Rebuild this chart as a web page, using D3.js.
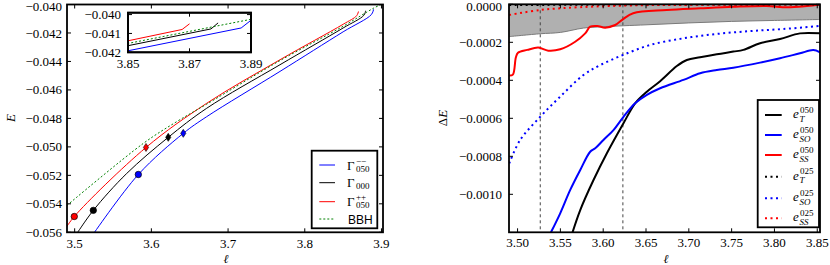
<!DOCTYPE html>
<html>
<head>
<meta charset="utf-8">
<script src="https://cdn.jsdelivr.net/npm/d3@7"></script>
<style>
  body { margin: 0; background: #fff; }
</style>
</head>
<body>
<svg id="chart"></svg>
<script>
// --- data ---

// left panel: binding energy curves E(l)
const gammaMinus = [[3.522, -0.0563], [3.583, -0.05194], [3.6416, -0.04905], [3.6721, -0.04788],
  [3.7677, -0.0447], [3.85, -0.04192], [3.8868, -0.04071], [3.8897, -0.04034]];
const gammaZero = [[3.5015, -0.0562], [3.5243, -0.05446], [3.5678, -0.05187], [3.622, -0.04933],
  [3.6721, -0.04729], [3.7677, -0.04423], [3.85, -0.04165], [3.877, -0.04076], [3.8793, -0.04044]];
const gammaPlus = [[3.488, -0.05575], [3.4995, -0.05489], [3.593, -0.05004],
  [3.6721, -0.04694], [3.7677, -0.04388], [3.85, -0.04139], [3.8676, -0.04079], [3.870, -0.04049]];
const bbh = [[3.49, -0.05411], [3.5894, -0.04976], [3.633, -0.04823], [3.6721, -0.047],
  [3.7677, -0.04394], [3.85, -0.04153], [3.89, -0.04025], [3.902, -0.03994]];

// markers: circles and diamonds with error bars
const circleMarks = [
  { x: 3.4995, y: -0.05489, c: "#ff0000" },
  { x: 3.5243, y: -0.05446, c: "#000000" },
  { x: 3.583, y: -0.05194, c: "#0000ff" }
];
const diamondMarks = [
  { x: 3.593, y: -0.05004, err: 0.00016, c: "#ff0000" },
  { x: 3.622, y: -0.04933, err: 0.00016, c: "#000000" },
  { x: 3.6416, y: -0.04905, err: 0.00016, c: "#0000ff" }
];

const leftXTicks = [3.5, 3.6, 3.7, 3.8, 3.9];
const leftYTicks = [-0.056, -0.054, -0.052, -0.050, -0.048, -0.046, -0.044, -0.042, -0.040];
const insetXTicks = [3.85, 3.87, 3.89];
const insetYTicks = [-0.042, -0.041, -0.040];

// right panel: error contributions dE(l)
const eT050 = [[3.5635, -0.00121], [3.5732, -0.001083], [3.5887, -0.000925], [3.6043, -0.000784],
  [3.6237, -0.000626], [3.6373, -0.000521], [3.651, -0.00046], [3.6665, -0.000405], [3.686, -0.000325],
  [3.6977, -0.000293], [3.7132, -0.000279], [3.7327, -0.000263], [3.752, -0.000249], [3.7637, -0.00024],
  [3.7832, -0.000205], [3.8065, -0.000183], [3.8298, -0.000153], [3.8532, -0.000153]];
const eSO050 = [[3.539, -0.0012], [3.5498, -0.0011], [3.5615, -0.000977], [3.5732, -0.000872],
  [3.5848, -0.000776], [3.5907, -0.000758], [3.6003, -0.000714], [3.612, -0.000662], [3.6237, -0.000592],
  [3.6373, -0.000521], [3.651, -0.000477], [3.6665, -0.000442], [3.6937, -0.000398], [3.7132, -0.000363],
  [3.7327, -0.000346], [3.752, -0.000334], [3.7832, -0.000307], [3.8065, -0.000284], [3.8298, -0.000258],
  [3.8454, -0.000241], [3.8532, -0.000253]];
const eSS050 = [[3.4903, -0.000375], [3.4945, -0.00037], [3.498, -0.00028], [3.5005, -0.000255],
  [3.5113, -0.00024], [3.5242, -0.000228], [3.5358, -0.000244], [3.5498, -0.000237], [3.5673, -0.000197],
  [3.579, -0.000153], [3.5848, -0.000118], [3.593, -0.000114], [3.6023, -0.000123], [3.614, -0.000109],
  [3.623, -0.000079], [3.635, -0.000047], [3.6743, -0.00003], [3.7132, -0.000021], [3.7517, -0.000013],
  [3.791, -0.000009], [3.8147, -0.000016], [3.838, -0.000009], [3.8532, -0.000001]];
const eT025 = [[3.4903, -0.000004], [3.6, -0.000002], [3.8532, -0.000001]];
const eSO025 = [[3.4903, -0.000837], [3.5032, -0.000713], [3.5265, -0.000592], [3.5498, -0.000486],
  [3.577, -0.000372], [3.5965, -0.00032], [3.623, -0.000267], [3.6549, -0.000214], [3.6937, -0.000179],
  [3.7327, -0.000156], [3.7716, -0.000141], [3.8104, -0.00013], [3.8532, -0.000114]];
const eSS025 = [[3.4903, -0.000056], [3.5265, -0.00003], [3.573, -0.000015], [3.643, -0.000005],
  [3.7, -0.000003], [3.8532, -0.000001]];
// grey band lower edge (band runs up to 0)
const band = [[3.4903, -0.00017], [3.5265, -0.000155], [3.55, -0.000148], [3.577, -0.000125],
  [3.6, -0.000118], [3.65, -0.000108], [3.7, -0.000098], [3.75, -0.00009], [3.8, -0.000085], [3.8532, -0.00008]];
const dashedX = [3.5265, 3.623];

const rightXTicks = [3.50, 3.55, 3.60, 3.65, 3.70, 3.75, 3.80, 3.85];
const rightYTicks = [-0.0010, -0.0008, -0.0006, -0.0004, -0.0002, 0.0000];

// --- setup ---
const width = 830, height = 265;
const serif = '"Liberation Serif", "Times New Roman", "DejaVu Serif", serif';
const svg = d3.select("#chart").attr("width", width).attr("height", height)
  .attr("font-family", serif);
const fs = 13;

const xL = d3.scaleLinear().domain([3.49, 3.902]).range([67, 383]);
const yL = d3.scaleLinear().domain([-0.056, -0.040]).range([232.3, 4.5]);
const xI = d3.scaleLinear().domain([3.85, 3.89]).range([128, 251]);
const yI = d3.scaleLinear().domain([-0.042, -0.0399]).range([52.3, 12.7]);
const xR = d3.scaleLinear().domain([3.49, 3.8532]).range([509, 820]);
const yR = d3.scaleLinear().domain([-0.0012, 0]).range([232.3, 4.3]);

const minus = s => s.replace("-", "\u2212");

function clip(id, x, y) {
  svg.append("clipPath").attr("id", id).append("rect")
    .attr("x", x.range()[0]).attr("y", y.range()[1])
    .attr("width", x.range()[1] - x.range()[0])
    .attr("height", y.range()[0] - y.range()[1]);
}

// frame with inward ticks on all four sides, labels left/bottom
function frame(x, y, xt, yt, xfmt, yfmt, tl, opts) {
  const g = svg.append("g");
  const [x0, x1] = x.range(), [y1, y0] = y.range();
  g.append("rect").attr("x", x0).attr("y", y0).attr("width", x1 - x0).attr("height", y1 - y0)
    .attr("fill", opts.fill || "none").attr("stroke", "#000").attr("stroke-width", 1.8);
  xt.forEach(v => {
    g.append("line").attr("x1", x(v)).attr("x2", x(v)).attr("y1", y1).attr("y2", y1 - tl).attr("stroke", "#000");
    g.append("line").attr("x1", x(v)).attr("x2", x(v)).attr("y1", y0).attr("y2", y0 + tl).attr("stroke", "#000");
    g.append("text").attr("x", x(v)).attr("y", y1 + opts.xdy).attr("text-anchor", "middle")
      .style("font-size", fs + "px").text(xfmt(v));
  });
  yt.forEach(v => {
    g.append("line").attr("x1", x0).attr("x2", x0 + tl).attr("y1", y(v)).attr("y2", y(v)).attr("stroke", "#000");
    g.append("line").attr("x1", x1).attr("x2", x1 - tl).attr("y1", y(v)).attr("y2", y(v)).attr("stroke", "#000");
    g.append("text").attr("x", x0 - opts.ydx).attr("y", Math.max(y(v), 6)).attr("dy", "0.35em").attr("text-anchor", "end")
      .style("font-size", fs + "px").text(minus(yfmt(v)));
  });
}

// --- left panel ---
clip("clipL", xL, yL);
clip("clipI", xI, yI);

const lineL = d3.line().x(d => xL(d[0])).y(d => yL(d[1])).curve(d3.curveCatmullRom.alpha(0.5));
const lineI = d3.line().x(d => xI(d[0])).y(d => yI(d[1]));

const leftSeries = [
  { data: gammaMinus, c: "#0000ff", dash: null },
  { data: gammaZero, c: "#000000", dash: null },
  { data: gammaPlus, c: "#ff0000", dash: null },
  { data: bbh, c: "#008000", dash: "2,2" }
];

const gL = svg.append("g").attr("clip-path", "url(#clipL)");
leftSeries.forEach(s => {
  gL.append("path").attr("d", lineL(s.data)).attr("fill", "none")
    .attr("stroke", s.c).attr("stroke-width", 1).attr("stroke-dasharray", s.dash);
});

diamondMarks.forEach(m => {
  gL.append("line").attr("x1", xL(m.x)).attr("x2", xL(m.x))
    .attr("y1", yL(m.y - m.err)).attr("y2", yL(m.y + m.err)).attr("stroke", "#000").attr("stroke-width", 1);
  const cx = xL(m.x), cy = yL(m.y);
  gL.append("path").attr("d", `M${cx},${cy - 4}L${cx + 2.6},${cy}L${cx},${cy + 4}L${cx - 2.6},${cy}Z`)
    .attr("fill", m.c).attr("stroke", "#000").attr("stroke-width", 0.6);
});
gL.selectAll(".cmark").data(circleMarks).enter().append("circle")
  .attr("cx", d => xL(d.x)).attr("cy", d => yL(d.y)).attr("r", 3.2)
  .attr("fill", d => d.c).attr("stroke", "#000").attr("stroke-width", 0.7);

frame(xL, yL, leftXTicks, leftYTicks, d3.format(".1f"), d3.format(".3f"), 4, { xdy: 16, ydx: 5 });

// inset
frame(xI, yI, insetXTicks, insetYTicks, d3.format(".2f"), d3.format(".3f"), 4, { xdy: 16, ydx: 7, fill: "#fff" });
const gI = svg.append("g").attr("clip-path", "url(#clipI)");
leftSeries.forEach(s => {
  gI.append("path").attr("d", lineI(s.data)).attr("fill", "none")
    .attr("stroke", s.c).attr("stroke-width", 1).attr("stroke-dasharray", s.dash);
});
svg.append("rect").attr("x", 128).attr("y", 12.7).attr("width", 123).attr("height", 39.6)
  .attr("fill", "none").attr("stroke", "#000").attr("stroke-width", 1.8);

// axis labels
svg.append("text").attr("transform", "translate(15,118) rotate(-90)").attr("text-anchor", "middle")
  .style("font-size", fs + "px").style("font-style", "italic").text("E");
svg.append("text").attr("x", 226).attr("y", 263).attr("text-anchor", "middle")
  .style("font-size", "12px").style("font-style", "italic").style("font-family", "DejaVu Serif").text("ℓ");

// left legend
const legL = svg.append("g");
legL.append("rect").attr("x", 311.7).attr("y", 150.7).attr("width", 65.6).attr("height", 77.6)
  .attr("fill", "#fff").attr("stroke", "#000").attr("stroke-width", 1.8);
const legLItems = [
  { c: "#0000ff", dash: null, sup: "\u2212\u2212", sub: "050", y: 165 },
  { c: "#000000", dash: null, sup: "", sub: "000", y: 182.7 },
  { c: "#ff0000", dash: null, sup: "++", sub: "050", y: 201.7 },
  { c: "#008000", dash: "2,2", text: "BBH", y: 219 }
];
legLItems.forEach(d => {
  legL.append("line").attr("x1", 319.3).attr("x2", 335).attr("y1", d.y).attr("y2", d.y)
    .attr("stroke", d.c).attr("stroke-width", 1).attr("stroke-dasharray", d.dash);
  if (d.text) {
    legL.append("text").attr("x", 348).attr("y", d.y + 4.5).attr("font-family", "Liberation Sans")
      .style("font-size", "12px").text(d.text);
  } else {
    const t = legL.append("text").attr("x", 347).attr("y", d.y + 4.5).style("font-size", fs + "px");
    t.append("tspan").text("\u0393");
    if (d.sup) t.append("tspan").attr("x", 356).attr("dy", -6).style("font-size", "9px").text(d.sup);
    t.append("tspan").attr("x", 356).attr("dy", d.sup ? 8 : 2).style("font-size", "9px").text(d.sub);
  }
});

// --- right panel ---
clip("clipR", xR, yR);
const lineR = d3.line().x(d => xR(d[0])).y(d => yR(d[1])).curve(d3.curveCatmullRom.alpha(0.5));
const gR = svg.append("g").attr("clip-path", "url(#clipR)");

const area = d3.area().x(d => xR(d[0])).y0(yR(0.00002)).y1(d => yR(d[1])).curve(d3.curveCatmullRom.alpha(0.5));
gR.append("path").attr("d", area(band)).attr("fill", "#b0b0b0");
gR.append("path").attr("d", lineR(band)).attr("fill", "none").attr("stroke", "#7a7a7a").attr("stroke-width", 1);

dashedX.forEach(v => {
  gR.append("line").attr("x1", xR(v)).attr("x2", xR(v)).attr("y1", yR(0)).attr("y2", yR(-0.0012))
    .attr("stroke", "#444").attr("stroke-width", 1).attr("stroke-dasharray", "3,3");
});

const rightSeries = [
  { data: eT050, c: "#000000", dash: null, sub: "T" },
  { data: eSO050, c: "#0000ff", dash: null, sub: "SO" },
  { data: eSS050, c: "#ff0000", dash: null, sub: "SS" },
  { data: eT025, c: "#000000", dash: "2,3.5", sub: "T" },
  { data: eSO025, c: "#0000ff", dash: "2,3.5", sub: "SO" },
  { data: eSS025, c: "#ff0000", dash: "2,3.5", sub: "SS" }
];
const supR = ["050", "050", "050", "025", "025", "025"];

rightSeries.forEach(s => {
  gR.append("path").attr("d", lineR(s.data)).attr("fill", "none")
    .attr("stroke", s.c).attr("stroke-width", 2).attr("stroke-dasharray", s.dash);
});

frame(xR, yR, rightXTicks, rightYTicks, d3.format(".2f"), d3.format(".4f"), 4, { xdy: 15, ydx: 7 });

svg.append("text").attr("transform", "translate(447,118) rotate(-90)").attr("text-anchor", "middle")
  .style("font-size", fs + "px").html('\u0394<tspan font-style="italic">E</tspan>');
svg.append("text").attr("x", 666).attr("y", 263).attr("text-anchor", "middle")
  .style("font-size", "12px").style("font-style", "italic").style("font-family", "DejaVu Serif").text("ℓ");

// right legend
const legR = svg.append("g");
legR.append("rect").attr("x", 757.7).attr("y", 100).attr("width", 61.3).attr("height", 127.3)
  .attr("fill", "#fff").attr("stroke", "#000").attr("stroke-width", 1.8);
const legRY = [115, 135, 155, 176.7, 198.3, 218.3];
rightSeries.forEach((s, i) => {
  const y = legRY[i];
  legR.append("line").attr("x1", 765).attr("x2", 781.7).attr("y1", y).attr("y2", y)
    .attr("stroke", s.c).attr("stroke-width", 2).attr("stroke-dasharray", s.dash);
  const t = legR.append("text").attr("x", 793).attr("y", y + 3).style("font-size", fs + "px");
  t.append("tspan").style("font-style", "italic").text("e");
  t.append("tspan").attr("x", 800).attr("dy", -5.5).style("font-size", "9px").text(supR[i]);
  t.append("tspan").attr("x", 799.5).attr("dy", 9).style("font-size", "9px").style("font-style", "italic").text(s.sub);
});
</script>
</body>
</html>
